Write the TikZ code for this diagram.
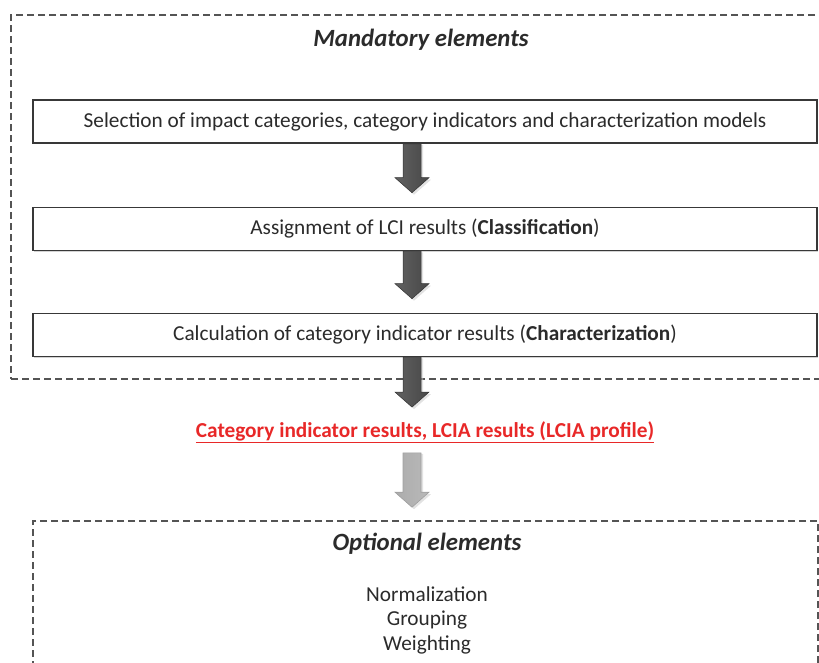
\documentclass[tikz,border=0pt]{standalone}
\usepackage{fontspec}
\setmainfont{Carlito}
\usetikzlibrary{calc,shadows}
\definecolor{boxline}{gray}{0.22}
\definecolor{dashline}{gray}{0.33}
\definecolor{txt}{gray}{0.17}
\definecolor{lciared}{RGB}{232,40,40}
\tikzset{
  stepbox/.style={draw=boxline, line width=1.6pt, fill=white,
    minimum width=784pt, minimum height=43pt, inner sep=0pt,
    text=txt, font=\fontsize{21.3}{25}\selectfont,
    drop shadow={shadow xshift=1.2pt, shadow yshift=-1.2pt, opacity=0.35}},
  groupbox/.style={draw=dashline, line width=1.6pt, dash pattern=on 7pt off 4pt,
    inner sep=0pt},
  grouptitle/.style={text=txt, font=\fontsize{24.8}{29}\selectfont\bfseries\itshape},
  itemtext/.style={text=txt, font=\fontsize{21.3}{25}\selectfont, inner sep=0pt},
  darkarrow/.style={draw=black!80, line width=0.5pt,
    left color=black!62, middle color=black, right color=black!72},
  lightarrow/.style={draw=gray!75, line width=0.6pt,
    left color=gray!65, middle color=gray!12, right color=gray!55},
  arrowshadow/.style={fill=gray!45, opacity=0.5}
}
% block arrow: #1 style, #2 start of the shaft, #3 tip
\newcommand\blockarrow[3]{%
  \path[arrowshadow] ($(#2)+(-7,1)$) -- ($(#3)+(-7,-13)$) -- ($(#3)+(-15,-13)$) -- ($(#3)+(2,2)$)
    -- ($(#3)+(19,-13)$) -- ($(#3)+(11,-13)$) -- ($(#2)+(11,1)$) -- cycle;
  \path[#1] ($(#2)+(-9,0)$) -- ($(#3)+(-9,-15)$) -- ($(#3)+(-17,-15)$) -- (#3)
    -- ($(#3)+(17,-15)$) -- ($(#3)+(9,-15)$) -- ($(#2)+(9,0)$) -- cycle;}
\begin{document}
\begin{tikzpicture}[x=1pt, y=-1pt]
  \useasboundingbox (0,0) rectangle (819,662);
  \clip (0,0) rectangle (819,662);

  % mandatory group frame (runs past the right edge)
  \node[groupbox, minimum width=814pt, minimum height=364pt] (mand) at (418,197) {};
  \node[grouptitle] (mandt) at (421,40) {Mandatory elements};

  % steps
  \node[stepbox] (b1) at (425,121.5) {Selection of impact categories, category indicators and characterization models};
  \node[stepbox] (b2) at (425,229) {Assignment of LCI results (\textbf{Classification})};
  \node[stepbox] (b3) at (425,335) {Calculation of category indicator results (\textbf{Characterization})};

  % result
  \node[text=lciared, font=\fontsize{21.3}{25}\selectfont\bfseries, inner sep=0pt] (res) at (425,432)
    {\underline{Category indicator results, LCIA results (LCIA profile)}};

  % optional group frame (runs past the bottom edge)
  \node[groupbox, minimum width=785pt, minimum height=160pt] (opt) at (425.5,601) {};
  \node[grouptitle] (optt) at (427,544) {Optional elements};
  \node[itemtext] (norm) at (427,594) {Normalization};
  \node[itemtext] (grp) at (427,620) {Grouping};
  \node[itemtext] (wgt) at (427,645) {Weighting};

  % arrows between the steps
  \coordinate (axis) at (412,0);
  \coordinate (s1) at (axis |- b1.south);
  \coordinate (t1) at ($(axis |- b2.north)+(0,-14)$);
  \coordinate (s2) at (axis |- b2.south);
  \coordinate (t2) at ($(axis |- b3.north)+(0,-14)$);
  \coordinate (s3) at (axis |- b3.south);
  \coordinate (t3) at ($(axis |- res.north)+(0,-14)$);
  \coordinate (s4) at ($(axis |- res.south)+(0,10)$);
  \coordinate (t4) at ($(axis |- opt.north)+(0,-13)$);
  \blockarrow{darkarrow}{s1}{t1}
  \blockarrow{darkarrow}{s2}{t2}
  \blockarrow{darkarrow}{s3}{t3}
  \blockarrow{lightarrow}{s4}{t4}
\end{tikzpicture}
\end{document}
